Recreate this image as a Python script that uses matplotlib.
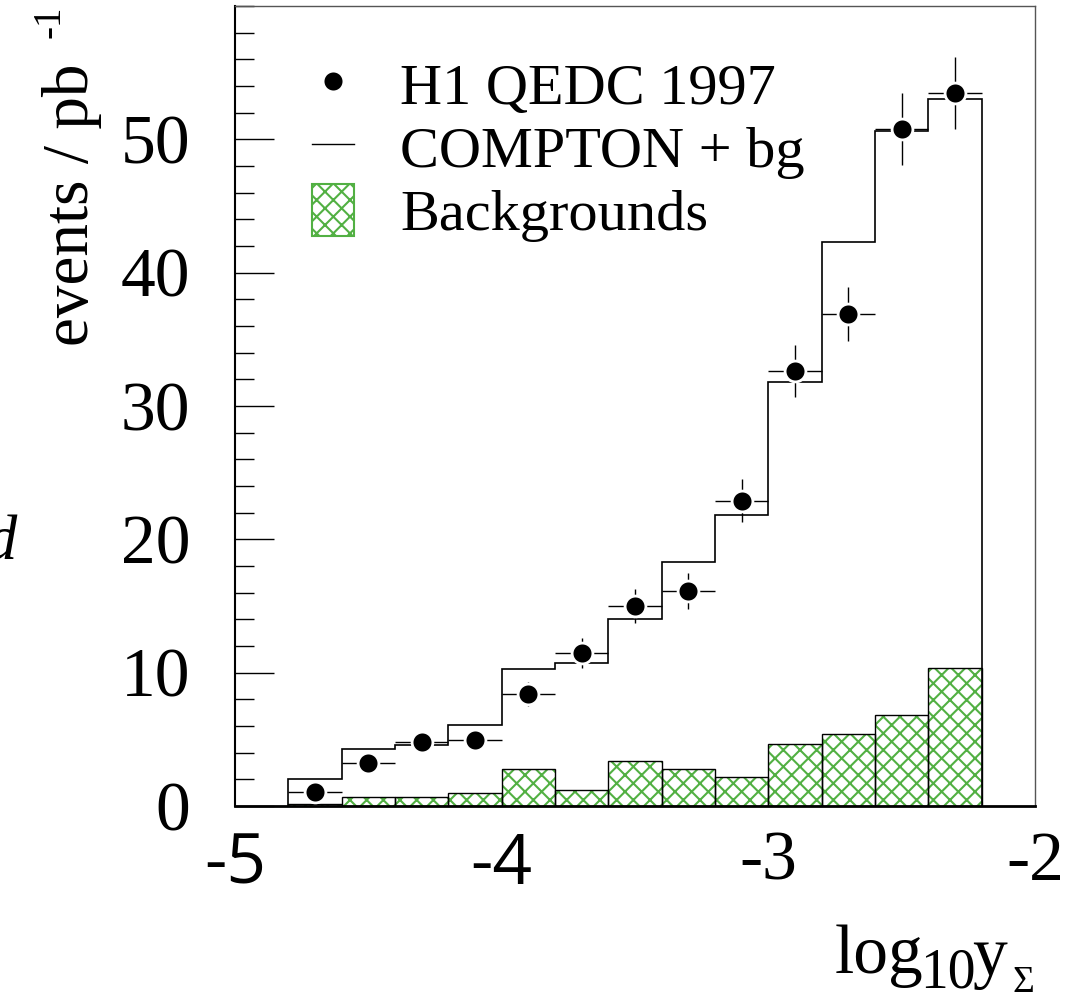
import matplotlib
matplotlib.use('Agg')
import matplotlib.pyplot as plt
from matplotlib.lines import Line2D
from matplotlib.patches import Patch
from matplotlib.ticker import MultipleLocator
import numpy as np

plt.rcParams['font.family'] = 'Liberation Serif'
plt.rcParams['hatch.linewidth'] = 1.5

# bins in log10(y_sigma)
bin_edges = [-4.8, -4.6, -4.4, -4.2, -4.0, -3.8, -3.6, -3.4, -3.2, -3.0, -2.8, -2.6, -2.4, -2.2]
bin_centers = [-4.7, -4.5, -4.3, -4.1, -3.9, -3.7, -3.5, -3.3, -3.1, -2.9, -2.7, -2.5, -2.3]

# H1 QEDC 1997 data
data_y = [1.05, 3.2, 4.8, 4.95, 8.4, 11.5, 15.0, 16.1, 22.9, 32.6, 36.9, 50.8, 53.5]
data_err = [0.45, 0.6, 0.65, 0.65, 0.88, 1.13, 1.3, 1.35, 1.6, 1.95, 2.05, 2.7, 2.7]

# COMPTON + bg prediction
mc = [2.05, 4.25, 4.55, 6.1, 10.3, 10.75, 14.05, 18.3, 21.8, 31.8, 42.3, 50.6, 53.0]

# backgrounds
bg = [0.12, 0.68, 0.68, 1.0, 2.75, 1.22, 3.38, 2.8, 2.2, 4.63, 5.43, 6.8, 10.33]

green = '#52b043'
W, H = 1075, 998

fig = plt.figure(figsize=(W / 100, H / 100), dpi=100)
ax = fig.add_axes([235 / W, 1 - 806 / H, 800 / W, 800 / H])

ax.bar(bin_centers, bg, width=0.2, facecolor='none', edgecolor=green, hatch='xx', linewidth=0)
ax.bar(bin_centers, bg, width=0.2, fill=False, edgecolor='black', linewidth=1)
ax.stairs(mc, bin_edges, color='black', linewidth=1.2, baseline=0)
ax.errorbar(bin_centers, data_y, xerr=0.1, yerr=data_err, fmt='o', color='black',
            ms=15, mec='white', mew=2, elinewidth=1, capsize=0)

ax.set_xlim(-5, -2)
ax.set_ylim(0, 60)

ax.set_xticks([-5, -4, -3, -2])
ax.set_xticklabels(['-5', '-4', '-3', '-2'])
ax.tick_params(axis='x', length=0, labelsize=50, pad=18)
for lab in ax.get_xticklabels()[:2]:
    lab.set_fontfamily('Open Sans')

ax.yaxis.set_major_locator(MultipleLocator(10))
ax.yaxis.set_minor_locator(MultipleLocator(2))
ax.set_yticks([0, 10, 20, 30, 40, 50])
ax.tick_params(axis='y', which='major', direction='in', length=28, width=1, labelsize=50, pad=32)
ax.tick_params(axis='y', which='minor', direction='in', length=14, width=1)

ax.spines['left'].set_linewidth(1.5)
ax.spines['bottom'].set_linewidth(2)
for s in ['top', 'right']:
    ax.spines[s].set_color('#555555')
    ax.spines[s].set_linewidth(1)

ax.set_ylabel('events / pb', fontsize=47, loc='top')
ax.yaxis.set_label_coords(-0.166, (806 - 64) / 800)
fig.text(50 / W, 1 - 22 / H, '-1', rotation=90, fontsize=28, ha='center', va='center')

# x-axis label pieces
fig.text(835 / W, 1 - 973 / H, 'log', fontsize=50, ha='left', va='baseline')
fig.text(920 / W, 1 - 988 / H, '10', fontsize=40, ha='left', va='baseline')
fig.text(972 / W, 1 - 975 / H, 'y', fontsize=50, ha='left', va='baseline')
fig.text(1012 / W, 1 - 992 / H, '\u03a3', fontsize=27, ha='left', va='baseline')

# cut-off glyph at the left edge
fig.text(-15 / W, 1 - 560 / H, 'd', fontsize=45, style='italic', ha='left', va='baseline')

handles = [
    Line2D([], [], marker='o', ls='none', color='black', ms=15, mec='white', mew=2),
    Line2D([], [], color='black', lw=1),
    Patch(facecolor='none', edgecolor=green, hatch='xx', lw=1.5),
]
labels = ['H1 QEDC 1997', 'COMPTON + bg', 'Backgrounds']
ax.legend(handles, labels, loc='upper left', bbox_to_anchor=(0.096, 0.935), frameon=False,
          fontsize=42, handlelength=0.72, handleheight=1.0, handletextpad=0.8,
          labelspacing=0.08, borderpad=0, borderaxespad=0)

fig.savefig('out.png', dpi=100)
